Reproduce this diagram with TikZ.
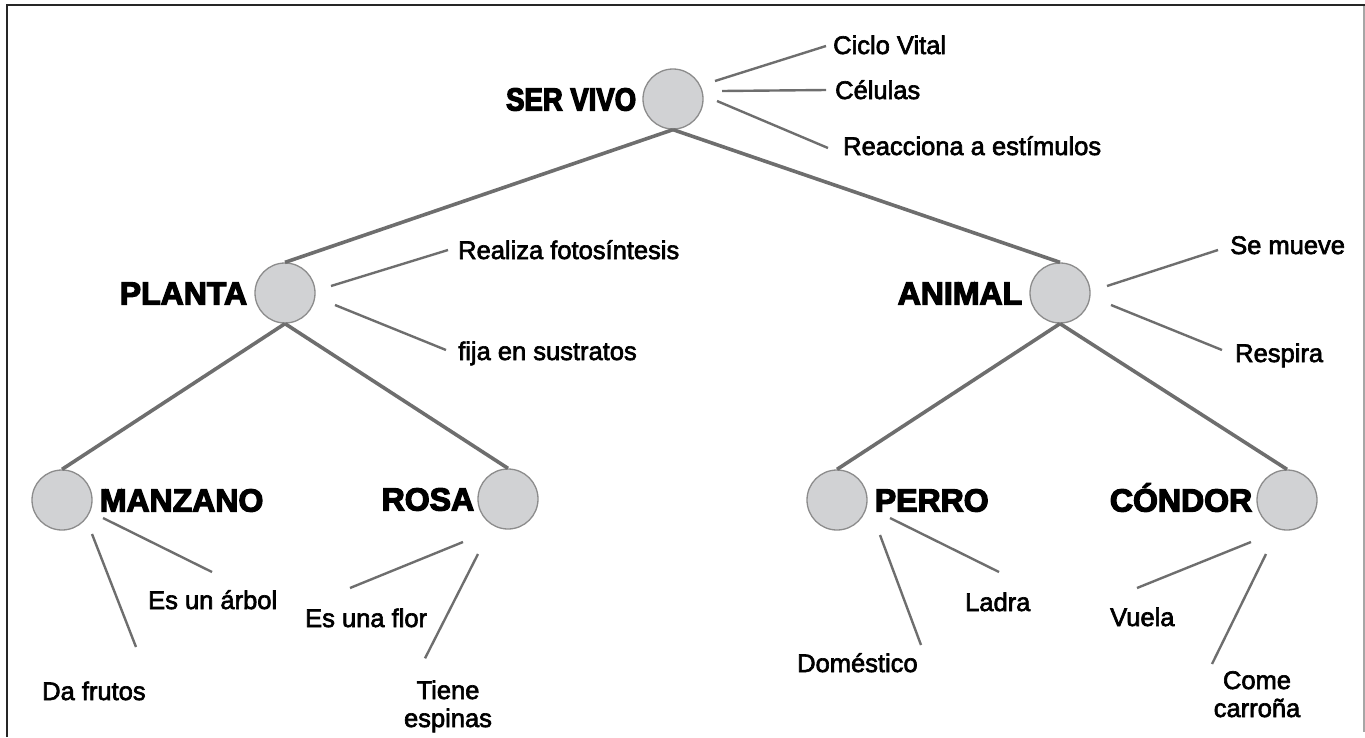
\documentclass[tikz,border=0pt]{standalone}
\usepackage{fontspec}
\setmainfont{Liberation Sans}
\newfontfamily\titlefont{Liberation Sans Bold}[FakeBold=4]
\newfontfamily\titlenarrow{Liberation Sans Bold}[FakeBold=4, FakeStretch=0.86]
\newfontfamily\attrfont{Liberation Sans}[FakeBold=2.5]
\usetikzlibrary{calc}

\definecolor{ballfill}{HTML}{D1D2D4}
\definecolor{balledge}{HTML}{8C8C8C}
\definecolor{linegray}{HTML}{6E6E6E}

\tikzset{
  ball/.style={circle, draw=balledge, fill=ballfill, line width=1.3pt, minimum size=60pt, inner sep=0pt},
  branch/.style={draw=linegray, line width=3.6pt},
  twig/.style={draw=linegray, line width=2.4pt},
  title/.style={font=\titlefont\fontsize{32}{36}\selectfont, inner sep=0pt, yshift=-11.5pt},
  attr/.style={font=\attrfont\fontsize{25.5}{29}\selectfont, inner sep=0pt, anchor=west, text height=18pt, text depth=0pt},
  attrtwo/.style={font=\attrfont\fontsize{25.5}{28}\selectfont, inner sep=0pt, align=center, anchor=base},
}

\begin{document}
\begin{tikzpicture}[x=1pt, y=-1pt]
        \useasboundingbox (0,0) rectangle (1365,737);
        % frame
        \draw[black!85, line width=1.6pt] (7,737) -- (7,5) -- (1365,5);
        \draw[black!35, line width=1.2pt] (1364,6) -- (1364,732);

        % circles
        \node[ball] (sv) at (673,99) {};
        \node[ball] (pl) at (285,293) {};
        \node[ball] (an) at (1060,293) {};
        \node[ball] (ma) at (62,500) {};
        \node[ball] (ro) at (508,499) {};
        \node[ball] (pe) at (837,500) {};
        \node[ball] (co) at (1287,500) {};

        % names
        \node[title, font=\titlenarrow\fontsize{32}{36}\selectfont, anchor=base east] (svt) at ($(sv.west)+(-6,0)$) {SER VIVO};
        \node[title, anchor=base east] (plt) at ($(pl.west)+(-7,0)$) {PLANTA};
        \node[title, anchor=base east] (ant) at ($(an.west)+(-7,0)$) {ANIMAL};
        \node[title, anchor=base west] (mat) at ($(ma.east)+(7,0)$) {MANZANO};
        \node[title, anchor=base east] (rot) at ($(ro.west)+(-3,0)$) {ROSA};
        \node[title, anchor=base west] (pet) at ($(pe.east)+(7,0)$) {PERRO};
        \node[title, anchor=base east] (cot) at ($(co.west)+(-4,0)$) {CÓNDOR};

        % tree
        \draw[branch] (sv.south) -- (pl.north);
        \draw[branch] (sv.south) -- (an.north);
        \draw[branch] (pl.south) -- (ma.north);
        \draw[branch] (pl.south) -- (ro.north);
        \draw[branch] (an.south) -- (pe.north);
        \draw[branch] (an.south) -- (co.north);

        % features
        \node[attr] (ciclo) at (833,45) {Ciclo Vital};
        \node[attr] (celulas) at (835,90) {Células};
        \node[attr] (reacc) at (843,146) {Reacciona a estímulos};
        \draw[twig] ($(sv)+(42,-18)$) -- ($(ciclo.west)+(-7,1)$);
        \draw[twig] ($(sv)+(49,-8)$) -- ($(celulas.west)+(-9,0)$);
        \draw[twig] ($(sv)+(44,2)$) -- ($(reacc.west)+(-15,2)$);

        \node[attr] (foto) at (458,250) {Realiza fotosíntesis};
        \node[attr] (fija) at (458,351) {fija en sustratos};
        \draw[twig] ($(pl)+(46,-7)$) -- ($(foto.west)+(-10,0)$);
        \draw[twig] ($(pl)+(50,12)$) -- ($(fija.west)+(-12,-1)$);

        \node[attr] (mueve) at (1230,245) {Se mueve};
        \node[attr] (respira) at (1235,353) {Respira};
        \draw[twig] ($(an)+(47,-7)$) -- ($(mueve.west)+(-12,5)$);
        \draw[twig] ($(an)+(51,12)$) -- ($(respira.west)+(-13,-3)$);

        \node[attr] (arbol) at (148,600) {Es un árbol};
        \node[attr] (frutos) at (42,691) {Da frutos};
        \draw[twig] ($(ma)+(41,18)$) -- ($(arbol.west)+(64,-28)$);
        \draw[twig] ($(ma)+(30,34)$) -- ($(frutos.west)+(94,-44)$);

        \node[attr] (flor) at (305,618) {Es una flor};
        \node[attrtwo] (espinas) at (448,727) {Tiene\\espinas};
        \draw[twig] ($(ro)+(-45,43)$) -- ($(flor.west)+(45,-30)$);
        \draw[twig] ($(ro)+(-30,55)$) -- ($(espinas.north)+(-23,-22)$);

        \node[attr] (ladra) at (965,602) {Ladra};
        \node[attr] (domes) at (797,663) {Doméstico};
        \draw[twig] ($(pe)+(53,18)$) -- ($(ladra.west)+(34,-30)$);
        \draw[twig] ($(pe)+(43,35)$) -- ($(domes.west)+(124,-18)$);

        \node[attr] (vuela) at (1110,617) {Vuela};
        \node[attrtwo] (carrona) at (1257,717) {Come\\carroña};
        \draw[twig] ($(co)+(-36,42)$) -- ($(vuela.west)+(27,-29)$);
        \draw[twig] ($(co)+(-21,54)$) -- ($(carrona.north)+(-45,-7)$);
    \end{tikzpicture}
\end{document}
